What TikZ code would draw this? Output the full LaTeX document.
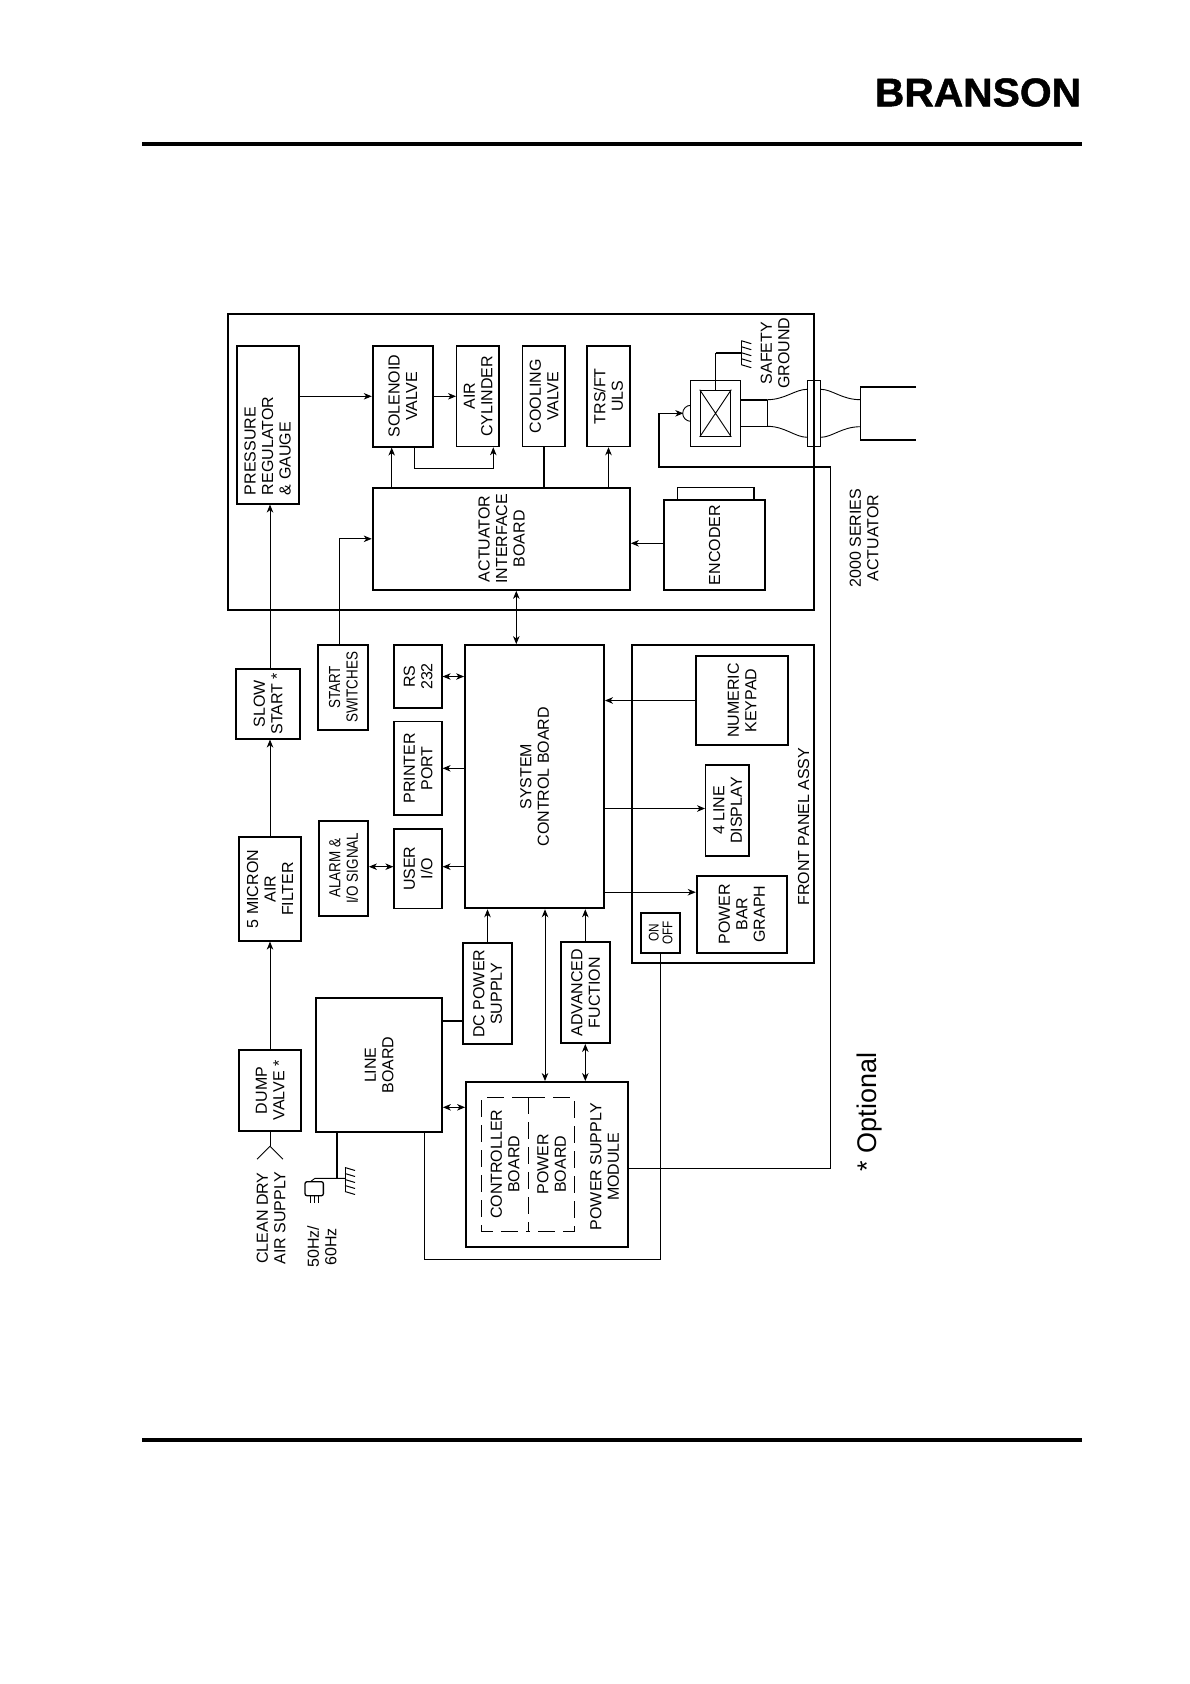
\documentclass[tikz,border=0pt]{standalone}
\usepackage{fontspec}
\usepackage{graphicx}
\setmainfont{Liberation Sans}
\newfontfamily\narrowfont[FakeStretch=0.84]{Liberation Sans}
\newfontfamily\logofont[UprightFont=* Bold,FakeStretch=1.02,FakeBold=1.2]{Liberation Sans}
\usetikzlibrary{arrows.meta,positioning}
\newcommand{\rt}[2][c]{\rotatebox{90}{\raisebox{-2.2pt}[\height][\depth]{\begin{tabular}{@{}#1@{}}#2\end{tabular}}}}
\renewcommand{\arraystretch}{1}

\begin{document}
\begin{tikzpicture}[
    x=1pt, y=-1pt,
    >={Stealth[length=8pt,width=6.5pt,inset=2.4pt]},
    block/.style={draw, line width=1.8pt, inner sep=0pt, align=center, font=\fontsize{16}{17.5}\selectfont},
    thinblock/.style={block, line width=1.2pt},
    narrow/.style={block, font=\fontsize{16}{17.5}\narrowfont},
    dashbox/.style={inner sep=0pt, font=\fontsize{16}{17.5}\selectfont},
    dashline/.style={line width=0.8pt, dash pattern=on 17pt off 8pt},
    caption/.style={inner sep=0pt, font=\fontsize{16}{17.5}\selectfont},
    wire/.style={line width=0.9pt},
    heavy/.style={line width=1.7pt},
    rulebar/.style={line width=4pt},
    gnd/.pic={
        \draw[line width=0.9pt] (0,-12) -- (0,12);
        \foreach \t in {-12,-6,0,6,12} \draw[line width=1pt] (0,\t) -- (10,\t+3);
    }
]
\useasboundingbox (0,0) rectangle (1190,1684);

\node[font=\fontsize{40}{40}\logofont, inner sep=0pt] (logo) at (978,92.5) {BRANSON};
\draw[rulebar] (142,144) -- (1081.7,144);
\draw[rulebar] (142,1440) -- (1081.7,1440);

\node[block, minimum width=586pt, minimum height=296pt] (actframe) at (521,462) {};
\node[block, minimum width=62.3pt, minimum height=157.7pt] (press) at (267.8,424.8) {};
\node[caption] (presstxt) at (267.5,446) {\rt[l]{PRESSURE\\REGULATOR\\\& GAUGE}};
\node[block, minimum width=60pt, minimum height=100.7pt] (solenoid) at (402.7,396.3) {\rt{SOLENOID\\VALVE}};
\node[thinblock, minimum width=42.3pt, minimum height=100.7pt] (aircyl) at (477.8,396.3) {\rt{AIR\\CYLINDER}};
\node[thinblock, minimum width=42.3pt, minimum height=100.7pt] (cooling) at (543.8,396.3) {\rt{COOLING\\VALVE}};
\node[thinblock, minimum width=43pt, minimum height=100.7pt] (trs) at (608.5,396.3) {\rt{TRS/FT\\ULS}};
\node[block, minimum width=257.3pt, minimum height=102.3pt] (aib) at (501.3,538.8) {\rt{ACTUATOR\\INTERFACE\\BOARD}};
\node[thinblock, minimum width=76.3pt, minimum height=12.3pt] (enctab) at (715.8,493.8) {};
\node[block, minimum width=101pt, minimum height=90pt] (encoder) at (714.5,545) {\rt{ENCODER}};

\node[block, minimum width=64pt, minimum height=69.7pt] (slow) at (268,703.8) {\rt{SLOW\\START *}};
\node[narrow, minimum width=49.7pt, minimum height=84.7pt] (startsw) at (343.2,687.3) {\rt{START\\SWITCHES}};
\node[thinblock, minimum width=48pt, minimum height=63pt] (rs) at (418,676.5) {\rt{RS\\232}};
\node[thinblock, minimum width=48pt, minimum height=93.3pt] (printer) at (418,768.3) {\rt{PRINTER\\PORT}};
\node[thinblock, minimum width=48pt, minimum height=79.3pt] (userio) at (418,868.7) {\rt{USER\\I/O}};
\node[narrow, minimum width=49pt, minimum height=94.7pt] (alarm) at (343.5,868.3) {\rt{ALARM \&\\I/O SIGNAL}};
\node[block, minimum width=62pt, minimum height=103.4pt] (filter) at (270,889) {\rt{5 MICRON\\AIR\\FILTER}};
\node[block, minimum width=62pt, minimum height=81pt] (dump) at (270,1090.5) {\rt{DUMP\\VALVE *}};
\node[block, minimum width=139pt, minimum height=263.3pt] (system) at (534.5,776.7) {\rt{SYSTEM\\CONTROL BOARD}};

\node[block, minimum width=182pt, minimum height=318.3pt] (panel) at (723,804.2) {};
\node[block, minimum width=91.7pt, minimum height=89pt] (keypad) at (741.8,700.5) {\rt{NUMERIC\\KEYPAD}};
\node[thinblock, minimum width=43.3pt, minimum height=91pt] (display) at (727.3,810.5) {\rt{4 LINE\\DISPLAY}};
\node[block, minimum width=90pt, minimum height=77pt] (bargraph) at (741.7,914.2) {\rt{POWER\\BAR\\GRAPH}};
\node[block, minimum width=39.3pt, minimum height=39.7pt, font=\fontsize{14}{14}\narrowfont] (onoff) at (660.3,932.8) {\renewcommand{\arraystretch}{0.9}\rt{ON\\OFF}};
\node[caption] (paneltxt) at (803.3,826.7) {\rt{FRONT PANEL ASSY}};

\node[block, minimum width=49pt, minimum height=100.7pt] (dcps) at (487.5,993.7) {\rt{DC POWER\\SUPPLY}};
\node[block, minimum width=49.3pt, minimum height=100.7pt] (advfn) at (585.3,992.7) {\rt{ADVANCED\\FUCTION}};
\node[block, minimum width=126pt, minimum height=134.3pt] (line) at (379,1065.2) {\rt{LINE\\BOARD}};
\node[block, minimum width=162pt, minimum height=164.7pt] (psm) at (547,1164.3) {};
\node[dashbox, minimum width=46.6pt, minimum height=133.3pt] (ctrl) at (505,1164.3) {\rt{CONTROLLER\\BOARD}};
\node[dashbox, minimum width=46pt, minimum height=133.3pt] (pwrb) at (551.3,1164.3) {\rt{POWER\\BOARD}};
\node[caption] (psmtxt) at (604.3,1166.7) {\rt{POWER SUPPLY\\MODULE}};
\draw[dashline] (ctrl.north east) -- (ctrl.north west) -- (ctrl.south west) -- (ctrl.south east);
\draw[dashline] (pwrb.north west) -- (pwrb.north east) -- (pwrb.south east) -- (pwrb.south west);
\draw[heavy, dash pattern=on 17pt off 8pt] (ctrl.north east) -- (ctrl.south east);

\node[thinblock, minimum width=49.6pt, minimum height=66pt] (conv) at (715.5,413.3) {};
\node[thinblock, minimum width=30.4pt, minimum height=46pt] (xtal) at (715.5,413.3) {};
\draw[wire] (xtal.south west) -- (xtal.north east) (xtal.north west) -- (xtal.south east);
\node[thinblock, minimum width=13.4pt, minimum height=66pt] (flange) at (814,413.3) {};
\coordinate (safegnd) at (741.3,352.7);
\draw[wire] (xtal.north) -- (xtal.north |- safegnd);
\draw[heavy] (xtal.north |- safegnd) -- (safegnd);
\pic at (safegnd) {gnd};
\draw[heavy] (740.3,399.7) -- (767.3,399.7);
\draw[wire] (740.3,426.3) -- (767.3,426.3) -- (767.3,399.7);
\draw[wire] (767.3,399.7) .. controls (785,399.7) and (795,389.3) .. (807.3,389.3);
\draw[wire] (767.3,426.3) .. controls (785,426.3) and (795,437.3) .. (807.3,437.3);
\draw[wire] (820.7,389.3) .. controls (832,389.3) and (842,399.7) .. (860.3,399.7);
\draw[wire] (820.7,437.3) .. controls (832,437.3) and (842,426.7) .. (860.3,426.7);
\draw[wire] (860.3,386.7) -- (860.3,440);
\draw[heavy] (916,386.7) -- (860.3,386.7) (860.3,440) -- (916,440);
\draw[wire] (690.7,405.3) arc[start angle=90, end angle=270, radius=8pt];

\node[caption] (safetxt) at (775,353) {\rt{SAFETY\\GROUND}};
\node[caption] (acttxt) at (864,538) {\rt{2000 SERIES\\ACTUATOR}};
\node[caption] (airtxt) at (271,1218) {\rt{CLEAN DRY\\AIR SUPPLY}};
\node[caption] (hztxt) at (322,1246.7) {\rt{50Hz/\\60Hz}};
\node[inner sep=0pt, font=\fontsize{27}{30}\selectfont] (opttxt) at (870,1111.7) {\rotatebox{90}{* Optional}};

\coordinate (airline) at (270,0);
\draw[->, wire] (dump.north) -- (filter.south);
\draw[->, wire] (filter.north) -- (airline |- slow.south);
\draw[->, wire] (airline |- slow.north) -- (airline |- press.south);
\draw[wire] (dump.south) -- ++(0,14.3) coordinate (airy);
\draw[wire] (airy) -- ++(-13,13) (airy) -- ++(13,13);

\draw[->, wire] (press.east |- solenoid.west) -- (solenoid.west);
\draw[->, wire] (solenoid.east) -- (aircyl.west);
\draw[->, wire] ([xshift=-11pt]solenoid.south |- aib.north) -- ([xshift=-11pt]solenoid.south);
\draw[->, wire] ([xshift=12pt]solenoid.south) -- ++(0,21.3) -| ([xshift=15.5pt]aircyl.south);
\draw[heavy] (cooling.south) -- (cooling.south |- aib.north);
\draw[->, wire] (trs.south |- aib.north) -- (trs.south);
\draw[->, wire] ([xshift=-3.9pt]startsw.north) |- (aib.west);
\draw[<->, wire] ([xshift=15pt]aib.south) -- ([xshift=15pt]aib.south |- system.north);
\draw[->, wire] ([yshift=1.7pt]encoder.west) -- ([yshift=1.7pt]encoder.west -| aib.east);

\draw[<->, wire] (rs.east) -- (rs.east -| system.west);
\draw[->, wire] (printer.east -| system.west) -- (printer.east);
\draw[->, wire] ([yshift=2pt]userio.east -| system.west) -- ([yshift=2pt]userio.east);
\draw[<->, wire] ([yshift=2pt]userio.west -| alarm.east) -- ([yshift=2pt]userio.west);
\draw[->, heavy] (keypad.west) -- (keypad.west -| system.east);
\draw[->, wire] ([yshift=2pt]display.west -| system.east) -- ([yshift=2pt]display.west);
\draw[->, wire] ([yshift=22pt]bargraph.west -| system.east) -- ([yshift=22pt]bargraph.west);

\draw[->, wire] (dcps.north) -- (dcps.north |- system.south);
\draw[<->, wire] ([xshift=10.5pt]system.south) -- ([xshift=10.5pt]system.south |- psm.north);
\draw[->, wire] (advfn.north) -- (advfn.north |- system.south);
\draw[<->, wire] (advfn.south) -- (advfn.south |- psm.north);
\draw[heavy] ([yshift=-27pt]dcps.west -| line.east) -- ([yshift=-27pt]dcps.west);
\draw[<->, wire] ([yshift=57pt]psm.west -| line.east) -- ([yshift=57pt]psm.west);

\coordinate (pwrloop) at (424.3,1259.3);
\draw[wire] (pwrloop |- line.south) -- (pwrloop) -| (onoff.south);
\coordinate (sigcorner) at (830.5,1168.3);
\coordinate (sigturn) at (659,466.7);
\coordinate (sigend) at (683.3,413.3);
\draw[wire] (psm.east |- sigcorner) -- (sigcorner) -- (sigcorner |- sigturn);
\draw[heavy] (sigcorner |- sigturn) -- (sigturn) -- (sigturn |- sigend);
\draw[->, wire] (sigturn |- sigend) -- (sigend);

\draw[heavy] ([xshift=-42pt]line.south) -- ++(0,46) coordinate (mains);
\coordinate (plugtop) at (315,1178.3);
\node[draw, line width=1.3pt, rounded corners=2pt, minimum width=18.3pt, minimum height=14pt] (plug) at (314.2,1188.7) {};
\draw[wire] (plug.north) ++(-3,0) -- (plugtop) -- (345,1178.3);
\pic at (345,1179.5) {gnd};
\draw[wire] (plug.south) -- ++(0,7) ([xshift=-4.2pt]plug.south) -- ++(0,7) ([xshift=4.2pt]plug.south) -- ++(0,7);
\end{tikzpicture}
\end{document}
